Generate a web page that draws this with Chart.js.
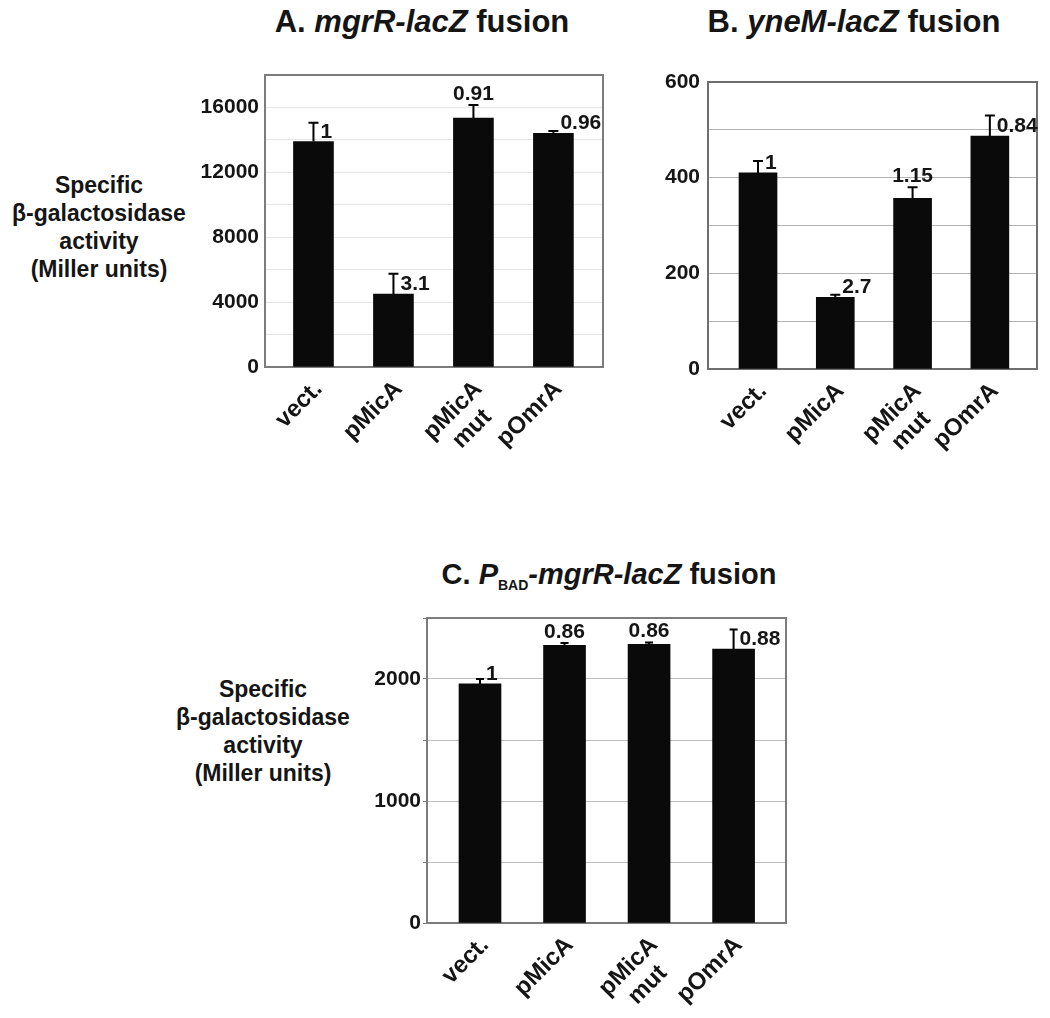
<!DOCTYPE html>
<html><head><meta charset="utf-8">
<script src="https://cdn.jsdelivr.net/npm/chart.js@4.4.1/dist/chart.umd.min.js"></script>
<style>
html,body{margin:0;padding:0;background:#fff;width:1050px;height:1018px;overflow:hidden;font-family:"Liberation Sans",Arial,sans-serif;}
canvas{position:absolute;}
.title{position:absolute;font-weight:bold;font-size:31px;line-height:34px;white-space:nowrap;transform:translateX(-50%);color:#151515;}
.title.c{font-size:29px;}
.title sub{font-size:14px;font-style:normal;vertical-align:-6px;line-height:0;}
.ylab{position:absolute;font-weight:bold;font-size:23px;line-height:28px;text-align:center;white-space:nowrap;transform:translateX(-50%);color:#151515;}
</style></head><body>
<div class="title" style="left:422px;top:5px">A. <i>mgrR-lacZ</i> fusion</div>
<div class="title" style="left:854px;top:5px">B. <i>yneM-lacZ</i> fusion</div>
<div class="title c" style="left:609px;top:557px">C. <i>P</i><sub>BAD</sub><i>-mgrR-lacZ</i> fusion</div>
<div class="ylab" style="left:99px;top:171px">Specific<br>β-galactosidase<br>activity<br>(Miller units)</div>
<div class="ylab" style="left:263px;top:675px">Specific<br>β-galactosidase<br>activity<br>(Miller units)</div>
<canvas id="cA" width="430" height="480" style="left:190px;top:55px;width:430px;height:480px"></canvas>
<canvas id="cB" width="420" height="480" style="left:630px;top:55px;width:420px;height:480px"></canvas>
<canvas id="cC" width="470" height="420" style="left:340px;top:598px;width:470px;height:420px"></canvas>
<script>
// ---- data ----
const categories = ['vect.', 'pMicA', ['pMicA', 'mut  '], 'pOmrA'];

const mgrRValues = [13900, 4500, 15350, 14400];
const mgrRErrors = [1150, 1250, 800, 150];
const mgrRFold   = ['1', '3.1', '0.91', '0.96'];
const yTicksA    = [0, 4000, 8000, 12000, 16000];

const yneMValues = [410, 150, 357, 487];
const yneMErrors = [25, 5, 23, 43];
const yneMFold   = ['1', '2.7', '1.15', '0.84'];
const yTicksB    = [0, 200, 400, 600];

const pbadValues = [1960, 2275, 2285, 2245];
const pbadErrors = [40, 20, 15, 160];
const pbadFold   = ['1', '0.86', '0.86', '0.88'];
const yTicksC    = [0, 1000, 2000];

const FONT = '"Liberation Sans", Arial, Helvetica, sans-serif';

function makeChart(id, cfg) {
  const values = cfg.values, errors = cfg.errors, fold = cfg.fold;
  const errPlugin = {
    id: 'errLabels_' + id,
    beforeDatasetsDraw(chart) {
      const a = chart.chartArea, ctx = chart.ctx;
      ctx.save();
      ctx.strokeStyle = cfg.boxColor;
      ctx.lineWidth = 2;
      ctx.strokeRect(a.left, a.top, a.right - a.left, a.bottom - a.top);
      ctx.restore();
    },
    afterDatasetsDraw(chart) {
      const ctx = chart.ctx, xs = chart.scales.x, ys = chart.scales.y;
      ctx.save();
      values.forEach((v, i) => {
        const x = xs.getPixelForValue(i);
        const yb = ys.getPixelForValue(v);
        const yt = ys.getPixelForValue(v + errors[i]);
        ctx.strokeStyle = '#000';
        ctx.lineWidth = 2;
        ctx.beginPath();
        ctx.moveTo(x, yb); ctx.lineTo(x, yt);
        ctx.moveTo(x - cfg.cap, yt); ctx.lineTo(x + cfg.cap, yt);
        ctx.stroke();
        ctx.font = 'bold 21px ' + FONT;
        ctx.fillStyle = '#151515';
        ctx.textBaseline = 'alphabetic';
        if (cfg.place[i] === 'above') {
          ctx.textAlign = 'center';
          ctx.fillText(fold[i], x, yt - 5);
        } else {
          ctx.textAlign = 'left';
          ctx.fillText(fold[i], x + cfg.cap + 2, yb - 4);
        }
      });
      ctx.restore();
    }
  };
  return new Chart(document.getElementById(id), {
    type: 'bar',
    data: {
      datasets: [{
        data: values.map((v, i) => ({ x: i, y: v })),
        backgroundColor: '#0a0a0a',
        borderWidth: 0,
        barThickness: cfg.barW
      }]
    },
    options: {
      responsive: false,
      animation: false,
      events: [],
      layout: { padding: cfg.pad },
      plugins: { legend: { display: false }, tooltip: { enabled: false }, title: { display: false } },
      scales: {
        x: {
          type: 'linear',
          min: cfg.xmin, max: cfg.xmax,
          offset: false,
          grid: { display: false },
          border: { display: false },
          afterBuildTicks: s => { s.ticks = categories.map((_, i) => ({ value: i })); },
          afterFit: s => { s.height = cfg.xH; },
          ticks: {
            autoSkip: false,
            includeBounds: false,
            stepSize: 1,
            minRotation: 45, maxRotation: 45,
            padding: cfg.xPad,
            labelOffset: 5,
            color: '#151515',
            font: { family: FONT, size: 24, weight: 'bold', lineHeight: 1.1 },
            callback: v => categories[v]
          }
        },
        y: {
          type: 'linear',
          min: 0, max: cfg.ymax,
          border: { display: false },
          grid: { color: cfg.gridColor, lineWidth: 1, drawTicks: cfg.tickLen > 0, tickLength: cfg.tickLen, tickColor: cfg.boxColor },
          afterFit: s => { s.width = cfg.yW; },
          ticks: {
            stepSize: cfg.step,
            padding: cfg.yPad,
            color: '#151515',
            font: { family: FONT, size: cfg.yFont, weight: 'bold' },
            callback: v => cfg.yTicks.includes(v) ? String(v) : ''
          }
        }
      }
    },
    plugins: [errPlugin]
  });
}

makeChart('cA', {
  values: mgrRValues, errors: mgrRErrors, fold: mgrRFold, yTicks: yTicksA,
  place: ['right', 'right', 'above', 'right'],
  pad: { top: 20, right: 17, left: 0, bottom: 0 }, yW: 75, xH: 168,
  xmin: -0.606, xmax: 3.62, ymax: 18000, step: 2000, barW: 40, cap: 5,
  gridColor: '#e6e6e6', boxColor: '#7c7c7c', tickLen: 0, yPad: 6, yFont: 21, xPad: 1
});
makeChart('cB', {
  values: yneMValues, errors: yneMErrors, fold: yneMFold, yTicks: yTicksB,
  place: ['right', 'right', 'above', 'right'],
  pad: { top: 27, right: 13, left: 0, bottom: 0 }, yW: 78, xH: 166,
  xmin: -0.647, xmax: 3.61, ymax: 600, step: 100, barW: 38, cap: 5,
  gridColor: '#b4b4b4', boxColor: '#6e6e6e', tickLen: 0, yPad: 8, yFont: 21, xPad: 1
});
makeChart('cC', {
  values: pbadValues, errors: pbadErrors, fold: pbadFold, yTicks: yTicksC,
  place: ['right', 'above', 'above', 'right'],
  pad: { top: 20, right: 24, left: 0, bottom: 0 }, yW: 87, xH: 95,
  xmin: -0.627, xmax: 3.62, ymax: 2500, step: 500, barW: 42, cap: 4,
  gridColor: '#bdbdbd', boxColor: '#7c7c7c', tickLen: 4, yPad: 2, yFont: 21, xPad: 1
});
</script>
</body></html>
